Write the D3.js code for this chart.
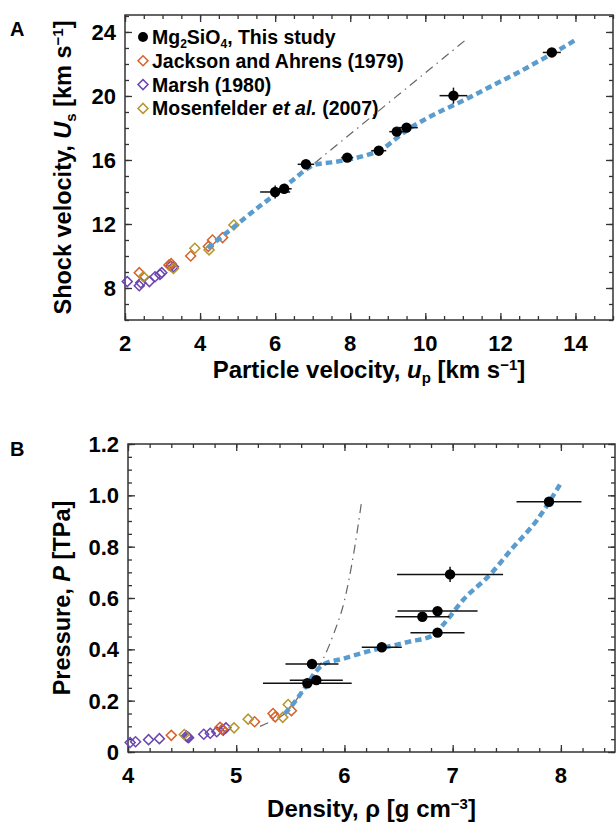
<!DOCTYPE html>
<html>
<head>
<meta charset="utf-8">
<script src="https://cdn.jsdelivr.net/npm/d3@7"></script>
<style>
body { margin: 0; background: #fff; }
svg { display: block; font-family: "Liberation Sans", Arial, sans-serif; }
</style>
</head>
<body>
<div id="chart"></div>
<script>
// ---- panel A : Us vs up ----
// [up, Us, dUp, dUs]
const thisStudyA = [
	[6.0, 14.0, 0.4, 0.4],
	[6.24, 14.2, 0.2, 0.2],
	[6.82, 15.73, 0.22, 0.25],
	[7.92, 16.15, 0.16, 0.15],
	[8.76, 16.58, 0.2, 0.15],
	[9.24, 17.77, 0.2, 0.15],
	[9.5, 18.02, 0.3, 0.15],
	[10.75, 20.02, 0.37, 0.5],
	[13.37, 22.72, 0.24, 0.15]
];
const jacksonA = [[2.38, 8.96], [3.17, 9.44], [3.23, 9.52], [3.75, 10.0], [4.22, 10.6], [4.33, 11.0], [4.6, 11.15]];
const marshA = [[2.06, 8.4], [2.38, 8.14], [2.42, 8.33], [2.65, 8.4], [2.8, 8.7], [2.93, 8.85], [2.98, 8.96], [3.22, 9.37], [3.29, 9.33]];
const mosenfelderA = [[2.49, 8.71], [3.29, 9.22], [3.86, 10.48], [4.24, 10.38], [4.9, 11.94]];
const fitA = [
	[4.2, 10.5], [4.6, 11.25], [5.0, 12.0], [5.5, 12.95], [6.0, 13.85], [6.5, 14.8], [6.85, 15.45],
	[7.05, 15.7], [7.5, 15.85], [8.0, 16.05], [8.5, 16.35], [8.8, 16.6], [9.2, 17.3], [9.6, 18.0],
	[10.0, 18.55], [10.5, 19.15], [11.0, 19.7], [11.5, 20.3], [12.0, 20.9], [12.5, 21.5],
	[13.0, 22.15], [13.5, 22.8], [14.0, 23.5]
];
const extrapA = [[7.05, 15.8], [11.1, 23.55]];
const aXTicks = [2, 4, 6, 8, 10, 12, 14];
const aYTicks = [8, 12, 16, 20, 24];

// ---- panel B : P vs rho ----
// [rho, P, dRho, dP]
const thisStudyB = [
	[5.7, 0.343, 0.245, 0.01],
	[5.657, 0.268, 0.41, 0.01],
	[5.74, 0.28, 0.245, 0.01],
	[6.345, 0.408, 0.185, 0.01],
	[6.72, 0.527, 0.25, 0.01],
	[6.86, 0.549, 0.37, 0.01],
	[6.86, 0.465, 0.25, 0.01],
	[6.976, 0.692, 0.49, 0.03],
	[7.89, 0.975, 0.3, 0.01]
];
const jacksonB = [[4.4, 0.065], [4.85, 0.096], [4.87, 0.088], [5.17, 0.118], [5.34, 0.15], [5.36, 0.137], [5.51, 0.161]];
const marshB = [[4.02, 0.037], [4.07, 0.04], [4.19, 0.048], [4.29, 0.052], [4.54, 0.062], [4.55, 0.058], [4.56, 0.056], [4.7, 0.069], [4.76, 0.073], [4.82, 0.079], [4.88, 0.085], [4.905, 0.094]];
const mosenfelderB = [[4.52, 0.068], [4.98, 0.094], [5.11, 0.128], [5.43, 0.135], [5.48, 0.185]];
const fitB = [
	[5.45, 0.15], [5.55, 0.2], [5.65, 0.26], [5.73, 0.31], [5.8, 0.34], [6.0, 0.365], [6.2, 0.39],
	[6.4, 0.41], [6.6, 0.43], [6.82, 0.455], [6.92, 0.5], [7.1, 0.594], [7.35, 0.693], [7.55, 0.793],
	[7.78, 0.904], [8.01, 1.055]
];
const extrapB = [[5.22, 0.1], [5.35, 0.125], [5.45, 0.15], [5.55, 0.2], [5.65, 0.26], [5.73, 0.31], [5.8, 0.36], [5.9, 0.46], [6.0, 0.59], [6.08, 0.76], [6.16, 0.98]];
const bXTicks = [4, 5, 6, 7, 8];
const bYTicks = [0, 0.2, 0.4, 0.6, 0.8, 1.0, 1.2];

const colors = { jackson: "#d8622a", marsh: "#6b45b0", mosen: "#b5952f", fit: "#5b9ccf", extrap: "#666" };

const width = 616;
const height = 822;

const svg = d3.select("#chart").append("svg")
	.attr("width", width)
	.attr("height", height);

const diamond = d3.symbol().type(d3.symbolSquare).size(50);

// sub/superscript helper: parts = [[text, kind]]  kind: "", "i", "sub", "sup"
function richText(sel, parts, small, subDy) {
	let shift = 0;
	parts.forEach(p => {
		const t = sel.append("tspan").text(p[0]);
		let want = 0;
		if (p[1] === "sub") want = subDy || 5;
		if (p[1] === "sup") want = -8;
		if (want !== shift) t.attr("dy", want - shift);
		shift = want;
		if (p[1] === "sub" || p[1] === "sup") t.style("font-size", small + "px");
		if (p[1] === "i") t.style("font-style", "italic");
	});
}

function panel(cfg) {
	const g = svg.append("g");
	const x = d3.scaleLinear().domain(cfg.xDomain).range([cfg.left, cfg.right]);
	const y = d3.scaleLinear().domain(cfg.yDomain).range([cfg.bottom, cfg.top]);

	// ticks, inward on all sides
	const sides = [
		[d3.axisBottom, x, cfg.bottom, "x", cfg.xMinor, cfg.xTicks],
		[d3.axisTop, x, cfg.top, "x", cfg.xMinor, cfg.xTicks],
		[d3.axisLeft, y, cfg.left, "y", cfg.yMinor, cfg.yTicks],
		[d3.axisRight, y, cfg.right, "y", cfg.yMinor, cfg.yTicks]
	];
	sides.forEach(s => {
		const tr = s[3] === "x" ? `translate(0,${s[2]})` : `translate(${s[2]},0)`;
		g.append("g").attr("transform", tr)
			.call(s[0](s[1]).tickValues(s[4]).tickSize(-4).tickFormat(""))
			.call(a => a.select(".domain").remove());
		g.append("g").attr("transform", tr)
			.call(s[0](s[1]).tickValues(s[5]).tickSize(-7).tickFormat(""))
			.call(a => a.select(".domain").remove());
	});
	g.selectAll(".tick line").attr("stroke", "#333").attr("stroke-width", 1.3);

	g.append("rect")
		.attr("x", cfg.left).attr("y", cfg.top)
		.attr("width", cfg.right - cfg.left).attr("height", cfg.bottom - cfg.top)
		.attr("fill", "none").attr("stroke", "#333").attr("stroke-width", 1.5);

	// tick labels
	g.selectAll(".xlab").data(cfg.xTicks).enter().append("text")
		.attr("x", d => x(d)).attr("y", cfg.bottom + 31)
		.attr("text-anchor", "middle")
		.style("font-size", "22px").style("font-weight", "bold")
		.text(d => d);
	g.selectAll(".ylab").data(cfg.yTicks).enter().append("text")
		.attr("x", cfg.left - 9).attr("y", d => y(d) + 8)
		.attr("text-anchor", "end")
		.style("font-size", "22px").style("font-weight", "bold")
		.text(cfg.yFormat);

	// panel letter
	g.append("text").attr("x", 10).attr("y", cfg.top + cfg.letterDy)
		.style("font-size", "20px").style("font-weight", "bold")
		.text(cfg.letter);

	// axis titles
	const xt = g.append("text")
		.attr("x", (cfg.left + cfg.right) / 2).attr("y", cfg.xTitleY)
		.attr("text-anchor", "middle")
		.style("font-size", "24px").style("font-weight", "bold");
	richText(xt, cfg.xTitle, 15);
	const yt = g.append("text")
		.attr("transform", `translate(${cfg.yTitleX},${(cfg.top + cfg.bottom) / 2}) rotate(-90)`)
		.attr("text-anchor", "middle")
		.style("font-size", "23.5px").style("font-weight", "bold");
	richText(yt, cfg.yTitle, 15);

	const plot = g.append("g");

	// extrapolation (dash-dot) and fit (blue dotted)
	const line = d3.line().x(d => x(d[0])).y(d => y(d[1])).curve(d3.curveMonotoneX);
	plot.append("path").datum(cfg.extrap)
		.attr("d", line).attr("fill", "none")
		.attr("stroke", colors.extrap).attr("stroke-width", 1.2)
		.attr("stroke-dasharray", "9,5,1.5,5");

	// literature diamonds
	[[cfg.marsh, colors.marsh], [cfg.jackson, colors.jackson], [cfg.mosen, colors.mosen]].forEach(s => {
		plot.selectAll(null).data(s[0]).enter().append("path")
			.attr("d", diamond)
			.attr("transform", d => `translate(${x(d[0])},${y(d[1])}) rotate(45)`)
			.attr("fill", "none").attr("stroke", s[1]).attr("stroke-width", 1.5);
	});

	plot.append("path").datum(cfg.fit)
		.attr("d", line).attr("fill", "none")
		.attr("stroke", colors.fit).attr("stroke-width", 4.5)
		.attr("stroke-dasharray", "6.5,4");

	// this study, with error bars
	const pts = plot.selectAll(".pt").data(cfg.study).enter().append("g");
	pts.append("line")
		.attr("x1", d => x(d[0] - d[2])).attr("x2", d => x(d[0] + d[2]))
		.attr("y1", d => y(d[1])).attr("y2", d => y(d[1]))
		.attr("stroke", "#111").attr("stroke-width", 1.5);
	pts.append("line")
		.attr("x1", d => x(d[0])).attr("x2", d => x(d[0]))
		.attr("y1", d => y(d[1] - d[3])).attr("y2", d => y(d[1] + d[3]))
		.attr("stroke", "#111").attr("stroke-width", 1.5);
	pts.append("circle")
		.attr("cx", d => x(d[0])).attr("cy", d => y(d[1]))
		.attr("r", 5.2).attr("fill", "#000");

	return g;
}

panel({
	letter: "A", letterDy: 21,
	left: 125, right: 613, top: 15, bottom: 320,
	xDomain: [2, 15], yDomain: [6, 25.06],
	xTicks: aXTicks, yTicks: aYTicks,
	xMinor: d3.range(2, 15.01, 0.5), yMinor: d3.range(6, 25.01, 1),
	yFormat: d => d,
	xTitleY: 378, yTitleX: 71,
	xTitle: [["Particle velocity, ", ""], ["u", "i"], ["p", "sub"], [" [km s", ""], ["−1", "sup"], ["]", ""]],
	yTitle: [["Shock velocity, ", ""], ["U", "i"], ["s", "sub"], [" [km s", ""], ["−1", "sup"], ["]", ""]],
	study: thisStudyA, jackson: jacksonA, marsh: marshA, mosen: mosenfelderA,
	fit: fitA, extrap: extrapA
});

panel({
	letter: "B", letterDy: 12,
	left: 128, right: 615, top: 444, bottom: 752,
	xDomain: [4, 8.5], yDomain: [0, 1.2],
	xTicks: bXTicks, yTicks: bYTicks,
	xMinor: d3.range(4, 8.51, 0.2), yMinor: d3.range(0, 1.201, 0.05),
	yFormat: d => d === 0 ? "0" : d3.format(".1f")(d),
	xTitleY: 817, yTitleX: 70,
	xTitle: [["Density, ρ [g cm", ""], ["−3", "sup"], ["]", ""]],
	yTitle: [["Pressure, ", ""], ["P", "i"], [" [TPa]", ""]],
	study: thisStudyB, jackson: jacksonB, marsh: marshB, mosen: mosenfelderB,
	fit: fitB, extrap: extrapB
});

// legend in panel A
const legend = svg.append("g");
const legendRows = [
	{ kind: "dot", color: "#000", parts: [["Mg", ""], ["2", "sub"], ["SiO", ""], ["4", "sub"], [", This study", ""]] },
	{ kind: "dia", color: colors.jackson, parts: [["Jackson and Ahrens (1979)", ""]] },
	{ kind: "dia", color: colors.marsh, parts: [["Marsh (1980)", ""]] },
	{ kind: "dia", color: colors.mosen, parts: [["Mosenfelder ", ""], ["et al.", "i"], [" (2007)", ""]] }
];
legendRows.forEach((r, i) => {
	const yy = 37 + i * 23.8;
	if (r.kind === "dot") {
		legend.append("circle").attr("cx", 143).attr("cy", yy).attr("r", 5).attr("fill", "#000");
	} else {
		legend.append("path").attr("d", diamond)
			.attr("transform", `translate(143,${yy}) rotate(45)`)
			.attr("fill", "none").attr("stroke", r.color).attr("stroke-width", 1.5);
	}
	const t = legend.append("text")
		.attr("x", 152).attr("y", yy + 7)
		.style("font-size", "19.5px").style("font-weight", "bold");
	richText(t, r.parts, 12, 3.5);
});
</script>
</body>
</html>
